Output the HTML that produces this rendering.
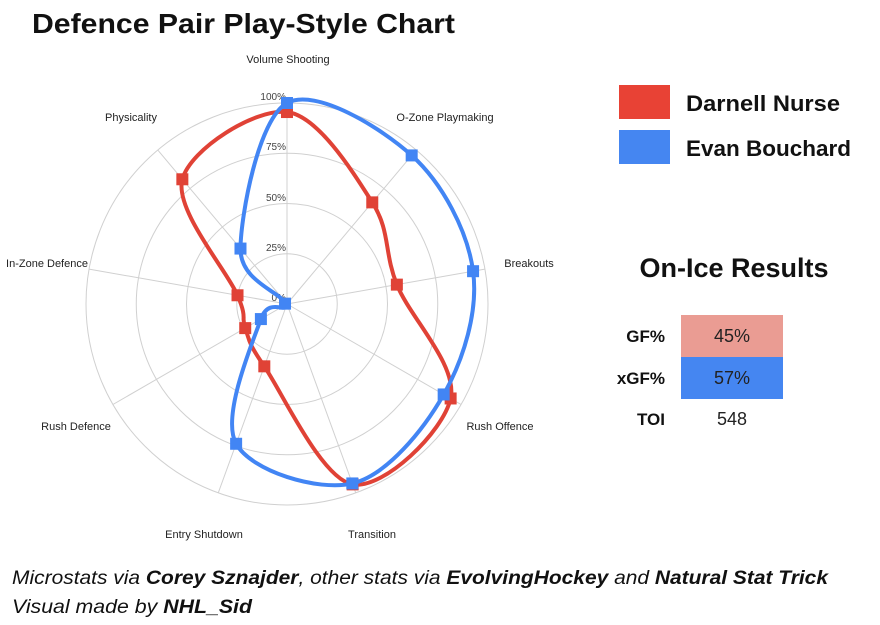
<!DOCTYPE html>
<html><head><meta charset="utf-8"><style>
html,body{margin:0;padding:0;background:#fff;}
svg{display:block;}
</style></head><body>
<svg id="s" width="880" height="625" xmlns="http://www.w3.org/2000/svg" font-family="Liberation Sans, sans-serif">
<rect width="880" height="625" fill="#fff"/>
<text x="32" y="33" font-size="28" font-weight="bold" fill="#111" textLength="423" lengthAdjust="spacingAndGlyphs">Defence Pair Play-Style Chart</text>
<g id="grid" stroke="#d0d0d0" stroke-width="1" fill="none"></g>
<g font-size="11" fill="#222" text-anchor="middle">
<text x="288" y="63">Volume Shooting</text>
<text x="445" y="121">O-Zone Playmaking</text>
<text x="529" y="267">Breakouts</text>
<text x="500" y="430">Rush Offence</text>
<text x="372" y="538">Transition</text>
<text x="204" y="538">Entry Shutdown</text>
<text x="76" y="430">Rush Defence</text>
<text x="47" y="267">In-Zone Defence</text>
<text x="131" y="121">Physicality</text>
</g>
<g font-size="10" fill="#444" text-anchor="end">
<text x="286" y="100">100%</text>
<text x="286" y="150">75%</text>
<text x="286" y="201">50%</text>
<text x="286" y="251">25%</text>
<text x="286" y="301">0%</text>
</g>
<g id="series"></g>
<rect x="619" y="85" width="51" height="34" fill="#e84235"/>
<rect x="619" y="130" width="51" height="34" fill="#4586f1"/>
<text x="686" y="111" font-size="22" font-weight="bold" fill="#111" textLength="154" lengthAdjust="spacingAndGlyphs">Darnell Nurse</text>
<text x="686" y="156" font-size="22" font-weight="bold" fill="#111" textLength="165" lengthAdjust="spacingAndGlyphs">Evan Bouchard</text>
<text x="734" y="277" font-size="27" font-weight="bold" fill="#111" text-anchor="middle">On-Ice Results</text>
<rect x="681" y="315" width="102" height="42" fill="#ea9c93"/>
<rect x="681" y="357" width="102" height="42" fill="#4586f1"/>
<g font-size="17" font-weight="bold" fill="#111" text-anchor="end">
<text x="665" y="342">GF%</text>
<text x="665" y="384">xGF%</text>
<text x="665" y="425">TOI</text>
</g>
<g font-size="18" fill="#222" text-anchor="middle">
<text x="732" y="342">45%</text>
<text x="732" y="384">57%</text>
<text x="732" y="425">548</text>
</g>
<g font-size="19" font-style="italic" fill="#111">
<text x="12" y="584" textLength="816" lengthAdjust="spacingAndGlyphs">Microstats via <tspan font-weight="bold">Corey Sznajder</tspan>, other stats via <tspan font-weight="bold">EvolvingHockey</tspan> and <tspan font-weight="bold">Natural Stat Trick</tspan></text>
<text x="12" y="613" textLength="240" lengthAdjust="spacingAndGlyphs">Visual made by <tspan font-weight="bold">NHL_Sid</tspan></text>
</g>
</svg>
<script>
(function(){
var cx=287,cy=304,R=201,NS="http://www.w3.org/2000/svg";
var grid=document.getElementById('grid');
function el(t,a,p){var e=document.createElementNS(NS,t);for(var k in a)e.setAttribute(k,a[k]);p.appendChild(e);return e;}
[0.25,0.5,0.75,1].forEach(function(f){el('circle',{cx:cx,cy:cy,r:R*f},grid);});
function pt(i,v){var a=i*40*Math.PI/180;return [cx+R*v*Math.sin(a),cy-R*v*Math.cos(a)];}
for(var i=0;i<9;i++){var p=pt(i,1);el('line',{x1:cx,y1:cy,x2:p[0],y2:p[1]},grid);}
var ser=document.getElementById('series');
function draw(vals,col){
 var P=vals.map(function(v,i){return pt(i,v);}),n=P.length,d='M'+P[0][0]+','+P[0][1];
 for(var i=0;i<n;i++){var p0=P[(i-1+n)%n],p1=P[i],p2=P[(i+1)%n],p3=P[(i+2)%n],t=1/6;
  d+=' C'+(p1[0]+(p2[0]-p0[0])*t)+','+(p1[1]+(p2[1]-p0[1])*t)+' '+(p2[0]-(p3[0]-p1[0])*t)+','+(p2[1]-(p3[1]-p1[1])*t)+' '+p2[0]+','+p2[1];}
 el('path',{d:d+'Z',fill:'none',stroke:col,'stroke-width':4},ser);
 P.forEach(function(p){el('rect',{x:p[0]-6,y:p[1]-6,width:12,height:12,fill:col},ser);});
}
draw([0.955,0.66,0.555,0.94,0.955,0.33,0.24,0.25,0.81],'#e04236');
draw([1.0,0.965,0.94,0.90,0.95,0.74,0.15,0.01,0.36],'#4285f4');
})();
</script>
</body></html>
